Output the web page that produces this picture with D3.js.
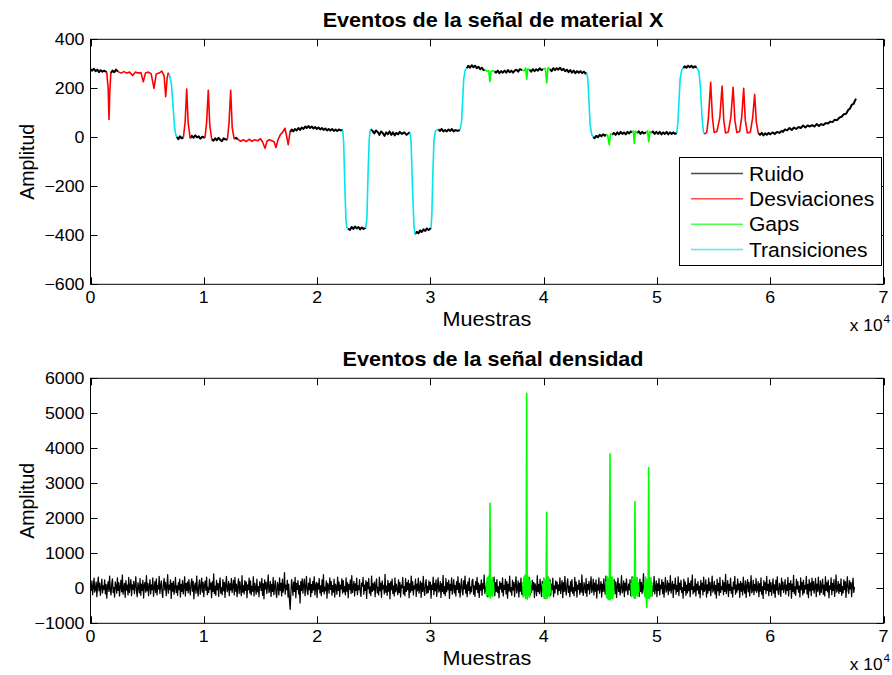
<!DOCTYPE html>
<html>
<head>
<meta charset="utf-8">
<script src="https://cdn.jsdelivr.net/npm/d3@7"></script>
<style>
  html, body { margin: 0; padding: 0; background: #fff; }
  svg { display: block; font-family: "Liberation Sans", Arial, Helvetica, sans-serif; }
</style>
</head>
<body>
<svg id="fig" width="892" height="675"></svg>
<script>
// ---------- Panel 1: material X signal, split by event class ----------
const ruido = [
  [[0,278],[150,272],[300,280],[450,270],[600,276],[750,266],[900,274],[1050,268],[1200,272],[1430,266]],
  [[1792,262],[1950,272],[2100,266],[2250,276],[2430,268]],
  [[7609,2],[7750,-8],[7900,4],[8050,-4],[8200,0]],
  [[8800,-4],[8950,6],[9100,-2],[9250,8],[9400,0],[9550,4],[9700,-6],[9850,2],[10100,-2]],
  [[10700,-8],[10850,-14],[11000,-4],[11150,-12],[11300,-2],[11450,-10],[11600,-16],[11750,-4],[11900,-8],[12080,-10]],
  [[12680,-6],[12850,-2],[13000,-8]],
  [[17610,20],[17760,32],[17900,24],[18050,34],[18200,28],[18350,38],[18500,30],[18650,40],[18800,34],[18950,44],[19084,38],[19230,46],[19380,38],[19530,44],[19680,36],[19830,42],[19980,34],[20130,40],[20280,32],[20430,38],[20580,30],[20730,36],[20880,28],[21030,34],[21180,28],[21330,34],[21480,26],[21630,32],[21780,26],[21930,32],[22080,28],[22262,30]],
  [[22730,-372],[22900,-378],[23050,-366],[23200,-374],[23350,-364],[23500,-372],[23650,-366],[23800,-376],[23950,-368],[24100,-374],[24292,-370]],
  [[24733,33],[24900,26],[25050,16],[25200,28],[25350,22],[25500,10],[25650,24],[25800,18],[25950,6],[26100,20],[26250,12],[26400,24],[26550,10],[26700,20],[26850,8],[27000,18],[27150,12],[27300,22],[27500,14],[27700,20],[27900,10],[28100,18],[28202,20]],
  [[28644,-395],[28800,-386],[28950,-392],[29100,-380],[29250,-386],[29400,-376],[29550,-382],[29700,-372],[29850,-378],[30056,-370]],
  [[30700,33],[30850,26],[31000,34],[31150,24],[31300,30],[31450,24],[31600,32],[31750,26],[31900,34],[32050,24],[32200,30],[32400,26],[32616,30]],
  [[33207,282],[33350,292],[33500,284],[33650,294],[33800,286],[33950,292],[34100,282],[34250,288],[34400,278],[34550,284],[34700,274],[34800,276]],
  [[35650,270],[35800,264],[35950,272],[36100,262],[36250,270],[36400,264],[36550,272],[36700,264],[36850,274],[37000,266],[37150,272],[37300,264],[37450,272],[37600,276],[37750,268],[37900,278],[38100,274]],
  [[38750,276],[38900,268],[39050,278],[39200,270],[39350,278],[39500,272],[39650,282],[39800,274],[39950,278]],
  [[40550,278],[40700,270],[40850,282],[41000,274],[41150,282],[41300,276],[41450,284],[41600,274],[41750,280],[41900,270],[42050,276],[42200,266],[42350,274],[42500,264],[42650,272],[42800,262],[42950,270],[43100,264],[43250,270],[43400,262],[43550,268],[43700,260],[43799,264]],
  [[44382,3],[44500,-4],[44650,6],[44800,0],[44950,10],[45100,4],[45250,12],[45400,6],[45500,12]],
  [[46050,10],[46200,18],[46350,10],[46500,20],[46650,12],[46800,22],[46950,14],[47100,20],[47250,12],[47400,22],[47550,16],[47700,24],[47800,20]],
  [[48250,18],[48400,24],[48550,14],[48700,22],[48850,16],[49050,20]],
  [[49500,18],[49650,24],[49800,14],[49950,22],[50100,14],[50250,22],[50400,12],[50550,20],[50700,14],[50850,22],[51000,12],[51150,20],[51300,14],[51450,20],[51600,14],[51744,18]],
  [[52326,282],[52450,290],[52600,284],[52750,292],[52900,286],[53050,292],[53200,284],[53350,290],[53509,284]],
  [[58947,17],[59100,10],[59250,18],[59400,8],[59550,16],[59700,10],[59850,18],[60000,12],[60200,20],[60400,14],[60600,22],[60800,18],[61000,26],[61127,22],[61300,32],[61500,28],[61700,38],[61900,30],[62100,40],[62300,34],[62500,42],[62700,38],[62900,48],[63100,40],[63300,48],[63500,44],[63700,50],[63900,44],[64100,54],[64300,46],[64500,54],[64700,50],[64900,58],[65100,56],[65300,64],[65500,62],[65700,72],[65900,70],[66100,80],[66300,84],[66500,94],[66700,96],[66900,112],[67050,118],[67191,132],[67350,136],[67450,146],[67573,158]]
];

const desviaciones = [
  [[1430,266],[1560,200],[1633,73],[1700,180],[1792,262]],
  [[2430,268],[2700,262],[2950,268],[3200,262],[3450,266],[3724,252],[3950,266],[4200,262],[4450,264],[4661,227],[4850,262],[5100,266],[5350,260],[5605,200],[5800,258],[6050,262],[6300,270],[6500,250],[6638,166],[6760,240],[6867,264]],
  [[8200,0],[8350,60],[8492,197],[8620,60],[8800,-4]],
  [[10100,-2],[10250,60],[10398,192],[10530,50],[10700,-8]],
  [[12080,-10],[12230,60],[12375,192],[12510,40],[12680,-6]],
  [[13000,-8],[13250,-16],[13500,-10],[13750,-18],[14000,-8],[14250,-16],[14500,-10],[14750,-14],[15000,-6],[15200,-20],[15403,-45],[15600,-14],[15800,-10],[16000,-14],[16200,-18],[16374,-42],[16550,-10],[16750,10],[16950,20],[17169,37],[17350,-5],[17450,-30],[17610,20]],
  [[54180,13],[54400,20],[54550,80],[54745,224],[54900,80],[55050,20],[55300,24],[55550,80],[55753,209],[55900,70],[56050,18],[56300,22],[56520,80],[56724,204],[56880,70],[57050,20],[57300,24],[57480,80],[57658,200],[57800,70],[57980,18],[58250,22],[58450,80],[58629,175],[58780,60],[58947,17]]
];

const gaps = [
  [[34800,276],[35000,270],[35150,272],[35264,227],[35350,270],[35500,272],[35650,270]],
  [[38100,274],[38300,272],[38420,282],[38503,237],[38600,280],[38750,276]],
  [[39950,278],[40150,282],[40268,222],[40380,284],[40550,278]],
  [[45500,12],[45650,8],[45794,-31],[45900,14],[46050,10]],
  [[47800,20],[47920,26],[48001,-25],[48100,24],[48250,18]],
  [[49050,20],[49180,26],[49272,-18],[49380,24],[49500,18]]
];

const transiciones = [
  [[6867,264],[7000,250],[7150,215],[7300,120],[7420,40],[7530,10],[7609,2]],
  [[22262,30],[22350,-20],[22450,-200],[22550,-340],[22615,-368],[22730,-372]],
  [[24292,-370],[24400,-330],[24500,-150],[24600,-10],[24680,25],[24733,33]],
  [[28202,20],[28300,-20],[28420,-200],[28550,-360],[28644,-395]],
  [[30056,-370],[30130,-320],[30220,-150],[30320,-10],[30450,25],[30700,33]],
  [[32616,30],[32750,60],[32850,150],[32950,240],[33080,275],[33207,282]],
  [[43799,264],[43900,240],[44000,150],[44100,50],[44250,10],[44382,3]],
  [[51744,18],[51850,60],[51950,150],[52050,240],[52200,275],[52326,282]],
  [[53509,284],[53700,270],[53850,200],[53980,80],[54100,25],[54180,13]]
];

// ---------- Panel 2: density signal ----------
const densidadPaso = 62.5;   // sample spacing of densidadRuido
const densidadRuido = [
  120,-60,210,-180,40,290,-110,-20,180,-240,90,320,-70,150,-200,30,260,-130,70,-30,
  240,-160,110,-280,60,190,-90,350,-40,-190,130,270,-120,20,-250,180,80,-140,300,-60,
  160,-220,40,230,-100,380,-170,10,140,-260,220,-50,90,-190,310,-120,60,250,-210,100,
  -30,200,-150,70,330,-90,-240,160,40,-130,280,-200,120,-60,230,-280,90,170,-110,360,
  -70,140,-210,50,250,-160,100,-40,300,-230,20,190,-120,270,-190,80,-20,340,-150,60,
  210,-100,-260,130,280,-50,170,-210,40,390,-140,90,-30,240,-290,150,-80,200,-170,20,
  310,-120,70,-200,160,-40,260,-250,110,-90,220,-160,30,330,-220,140,-60,180,-130,250,
  -10,-190,120,270,-80,200,-300,60,150,-140,350,-50,-220,100,240,-170,40,290,-110,170,
  -240,80,210,-60,320,-180,30,-120,260,-30,150,-270,190,-90,410,-150,60,-200,230,-40,
  140,-230,90,300,-140,20,-180,250,-70,170,-260,110,340,-100,-20,200,-210,130,-50,280,
  -120,60,230,-190,310,-80,120,-240,40,270,-150,190,-20,-210,360,-110,80,-160,220,-60,
  180,-270,100,-40,290,-130,210,-190,60,-80,330,-220,150,20,-170,260,-100,50,-240,190,
  90,-60,280,-200,130,-300,240,-20,170,-150,70,380,-120,-40,200,-230,110,-90,310,-180,
  40,220,-130,-260,170,80,-190,300,-60,140,-220,260,-110,30,450,-170,90,-40,230,-250,
  120,-330,-600,-150,250,60,-200,180,-90,310,-270,140,-30,220,-160,80,-420,190,-60,270,
  -140,100,260,-210,30,340,-80,-180,150,-40,290,-240,110,-120,200,-50,330,-190,60,170,
  -260,140,-20,280,-130,70,-210,240,-90,390,-160,30,-70,210,-280,150,60,-140,300,-30,
  190,-200,80,-110,260,-250,120,40,-170,320,-60,180,-230,90,-20,270,-140,220,-100,50,
  -190,300,-80,160,-270,110,-30,240,-150,360,-120,20,200,-220,130,-60,290,-180,70,-40,
  250,-110,-230,150,60,310,-170,90,-60,220,-290,170,-10,280,-140,40,-210,350,-90,130,
  -50,180,-240,100,270,-130,30,-190,320,-70,150,-260,210,-20,80,-160,400,-110,60,-200,
  230,-80,140,-300,190,-40,260,-150,70,-220,300,-100,120,-30,-180,240,-120,170,-250,90,
  20,310,-160,50,-210,280,-90,160,-40,230,-270,130,-110,350,-60,190,-190,70,-20,260,
  -230,120,-70,290,-140,30,200,-260,150,-90,340,-50,-200,110,250,-150,60,-120,210,-40,
  170,-280,90,-30,320,-180,140,-70,240,-230,60,300,-110,-40,190,-260,130,-90,370,-150,
  50,-210,280,-100,160,-40,230,-290,110,-60,300,-170,20,250,-130,80,-220,190,-30,330,
  -120,140,-250,60,270,-80,-190,210,-20,350,-140,100,-240,180,-60,290,-160,40,-100,220,
  260,-170,70,-230,190,-30,310,-120,150,-260,90,-50,240,-200,130,-10,380,-150,60,-90,
  200,-240,110,-60,280,-180,30,230,-140,-40,320,-210,160,-90,250,-120,50,-270,190,-20,
  140,-110,300,-220,80,-30,260,-160,190,-280,120,-70,350,-100,20,-200,230,-50,170,-240,
  100,330,-130,-10,210,-250,150,-80,290,-170,40,-220,270,-60,180,-140,90,-300,240,-30,
  310,-190,60,-120,230,-40,170,-260,130,20,-210,360,-90,110,-150,260,-20,-230,200,-70,
  150,-280,240,-50,90,-160,330,-110,30,250,-200,120,-40,290,-240,70,-130,210,-10,180,
  -180,100,-60,300,-150,40,220,-270,160,-90,340,-30,-190,130,270,-120,60,-240,190,-80,
  250,-140,20,-210,310,-70,180,-250,90,-30,230,-170,140,-110,380,-60,-200,160,50,-130,
  280,-230,110,-40,200,-160,70,330,-120,-20,260,-190,150,-80,240,-280,100,-50,300,-140,
  30,190,-250,120,-90,270,-30,-170,350,-110,160,-220,60,230,-140,-20,310,-200,90,-60,
  240,-150,180,-260,40,290,-90,130,-190,20,360,-130,-50,210,-240,150,-70,270,-30,-180,
  120,-40,250,-210,80,330,-160,-60,190,-280,140,-20,300,-120,50,-230,260,-90,170,-150,
  30,420,-100,-200,160,-50,240,-270,110,-130,290,-30,180,-220,70,-80,340,-160,20,210,
  -240,130,-60,280,-190,90,-10,250,-150,170,-250,60,310,-110,-30,220,-180,140,-70,360,
  -140,50,200,-260,110,-20,290,-170,80,-90,330,-210,150,-40,230,-120,20,-280,260,-60,
  180,-200,90,-130,300,-70,140,-240,210,-30,380,-160,40,-100,270,-220,120,-50,190,-150,
  60,-270,230,-40,150,-190,320,-90,-20,240,-250,100,-140,290,-60,170,-210,30,350,-110,
  -30,200,-160,80,-280,260,-70,140,-200,310,-120,50,-40,230,-180,160,-90,400,-150,20,
  220,-230,110,-60,290,-140,30,-250,180,-20,340,-170,90,-110,270,-40,130,-260,200,-80,
  150,-190,320,-30,-140,210,-260,60,250,-100,170,-220,40,360,-130,-50,230,-180,110,-70,
  280,-120,-10,190,-240,130,-80,300,-170,50,-290,220,-30,160,-150,340,-60,110,-210,240,
  -90,160,-200,30,270,-140,100,-260,230,-50,330,-110,-180,140,60,-230,290,-40,180,-120,
  20,250,-170,90,-60,310,-220,140,-30,220,-280,120,-90,370,-150,40,-200,260,-20,190,
  -110,60,-250,300,-40,170,-190,230,-130,80,-20,340,-160,110,-270,250,-70,150,-210,290,
  -50,190,-140,40,280,-240,120,-80,320,-30,-190,210,-120,60,260,-170,90,-220,330,-60,
  160,-100,230,-270,70,-30,300,-180,140,-60,250,-230,20,380,-110,-40,200,-150,120,-90,
  270,-200,50,-130,240,-40,190,-260,100,330,-70,-150,220,-20,160,-240,90,290,-120,40
];

const densidadGaps = [
  [[34920,160],[34970,-210],[35020,290],[35070,-180],[35120,340],[35170,-240],[35220,210],[35264,2430],[35310,-280],[35360,250],[35410,-190],[35460,300],[35510,-230],[35560,170],[35610,-120]],
  [[38160,180],[38210,-250],[38260,320],[38310,-200],[38360,380],[38410,-290],[38460,240],[38503,5570],[38550,-300],[38600,360],[38650,-220],[38700,300],[38750,-260],[38800,200],[38850,-150]],
  [[39920,140],[39970,-230],[40020,300],[40070,-260],[40120,220],[40170,-300],[40220,280],[40268,2170],[40310,-290],[40360,260],[40410,-210],[40460,310],[40510,-250],[40560,180],[40610,-140]],
  [[45500,200],[45550,-260],[45600,330],[45650,-300],[45700,280],[45750,-320],[45800,340],[45857,3840],[45900,-330],[45950,300],[46000,-280],[46050,320],[46100,-300],[46150,260],[46200,-200]],
  [[47720,150],[47770,-240],[47820,280],[47870,-200],[47920,310],[47970,-260],[48020,240],[48062,2480],[48110,-270],[48160,230],[48210,-190],[48260,270],[48310,-220],[48360,160],[48410,-120]],
  [[48900,180],[48950,-250],[49000,320],[49050,-220],[49095,-545],[49140,260],[49190,-280],[49230,300],[49272,3450],[49320,-300],[49370,280],[49420,-240],[49470,300],[49520,-210],[49570,170]]
];

// ---------- Axis settings ----------
const xDomain = [0, 70000];
const xTicks = [0, 10000, 20000, 30000, 40000, 50000, 60000, 70000];
const xTickLabels = ["0", "1", "2", "3", "4", "5", "6", "7"];
const y1Domain = [-600, 400];
const y1Ticks = [-600, -400, -200, 0, 200, 400];
const y2Domain = [-1000, 6000];
const y2Ticks = [-1000, 0, 1000, 2000, 3000, 4000, 5000, 6000];

const titulo1 = "Eventos de la señal de material X";
const titulo2 = "Eventos de la señal densidad";
const etiquetaX = "Muestras";
const etiquetaY = "Amplitud";
const leyenda = ["Ruido", "Desviaciones", "Gaps", "Transiciones"];

const colores = { ruido: "#000000", desviaciones: "#ff0000", gaps: "#00ff00", transiciones: "#00e5ee" };

// ---------- Drawing ----------
const svg = d3.select("#fig");
const FONT = '"Liberation Sans", Arial, Helvetica, sans-serif';
const left = 90.5, right = 883.5;
const SX = 1.08;   // horizontal widening applied to figure text

function label(parent, x, y, str, size, anchor) {
  return parent.append("text")
    .attr("transform", `translate(${x},${y}) scale(${SX},1)`)
    .attr("text-anchor", anchor || "start")
    .attr("font-size", size)
    .text(str);
}

function panel(top, bottom, yDomain, yTicks) {
  const x = d3.scaleLinear().domain(xDomain).range([left, right]);
  const y = d3.scaleLinear().domain(yDomain).range([bottom, top]);
  const g = svg.append("g");
  return { x, y, g, top, bottom, yTicks };
}

function frame(p, title) {
  const { x, y, g, top, bottom } = p;
  const tl = 7;
  const ax = g.append("g").attr("stroke", "#000").attr("stroke-width", 1).attr("fill", "none");
  xTicks.forEach(t => {
    const xx = Math.round(x(t)) + 0.5;
    ax.append("line").attr("x1", xx).attr("x2", xx).attr("y1", bottom).attr("y2", bottom - tl);
    ax.append("line").attr("x1", xx).attr("x2", xx).attr("y1", top).attr("y2", top + tl);
  });
  p.yTicks.forEach(t => {
    const yy = Math.round(y(t)) + 0.5;
    ax.append("line").attr("x1", left).attr("x2", left + tl).attr("y1", yy).attr("y2", yy);
    ax.append("line").attr("x1", right).attr("x2", right - tl).attr("y1", yy).attr("y2", yy);
  });
  ax.append("rect").attr("x", left).attr("y", top).attr("width", right - left).attr("height", bottom - top);

  const txt = g.append("g").attr("font-family", FONT).attr("fill", "#000");
  xTicks.forEach((t, i) => label(txt, x(t), bottom + 19, xTickLabels[i], 16.5, "middle"));
  p.yTicks.forEach(t => label(txt, left - 6, y(t) + 6, t < 0 ? "\u2212" + Math.abs(t) : String(t), 16.5, "end"));
  label(txt, (left + right) / 2, bottom + 42, etiquetaX, 20, "middle");
  label(txt, right - 1, bottom + 47, "x 10", 16, "end");
  label(txt, right, bottom + 39, "4", 11, "start");
  txt.append("text").attr("transform", `translate(34,${(top + bottom) / 2}) rotate(-90)`)
    .attr("text-anchor", "middle").attr("font-size", 19.5).text(etiquetaY);
  label(txt, 493, top - 12.5, title, 20, "middle").attr("font-weight", "bold");
}

function drawSegments(p, segs, color, width) {
  const line = d3.line().x(d => p.x(d[0])).y(d => p.y(d[1]));
  p.g.append("g").attr("fill", "none").attr("stroke", color).attr("stroke-width", width)
    .attr("stroke-linejoin", "round")
    .selectAll("path").data(segs).join("path").attr("d", line);
}

// Panel 1
const p1 = panel(39.3, 284.3, y1Domain, y1Ticks);
drawSegments(p1, ruido, colores.ruido, 2);
drawSegments(p1, transiciones, colores.transiciones, 1.6);
drawSegments(p1, desviaciones, colores.desviaciones, 1.6);
drawSegments(p1, gaps, colores.gaps, 1.6);
frame(p1, titulo1);

// Legend
const lg = p1.g.append("g").attr("font-family", FONT);
lg.append("rect").attr("x", 679.5).attr("y", 157.5).attr("width", 202).attr("height", 108)
  .attr("fill", "#fff").attr("stroke", "#000").attr("stroke-width", 1);
const legColors = [colores.ruido, colores.desviaciones, colores.gaps, colores.transiciones];
const legY = d3.scalePoint().domain(leyenda).range([173.5, 249.5]);
leyenda.forEach((name, i) => {
  lg.append("line").attr("x1", 691).attr("x2", 743).attr("y1", legY(name)).attr("y2", legY(name))
    .attr("stroke", legColors[i]).attr("stroke-width", 1.5).attr("stroke-opacity", 0.7);
  label(lg, 749, legY(name) + 7, name, 19.5, "start");
});

// Panel 2
const p2 = panel(378.3, 623.3, y2Domain, y2Ticks);
const densidad = densidadRuido.map((v, i) => [i * densidadPaso, v]);
drawSegments(p2, [densidad], "#000", 1.25);
drawSegments(p2, densidadGaps, colores.gaps, 1.6);
frame(p2, titulo2);
</script>
</body>
</html>
